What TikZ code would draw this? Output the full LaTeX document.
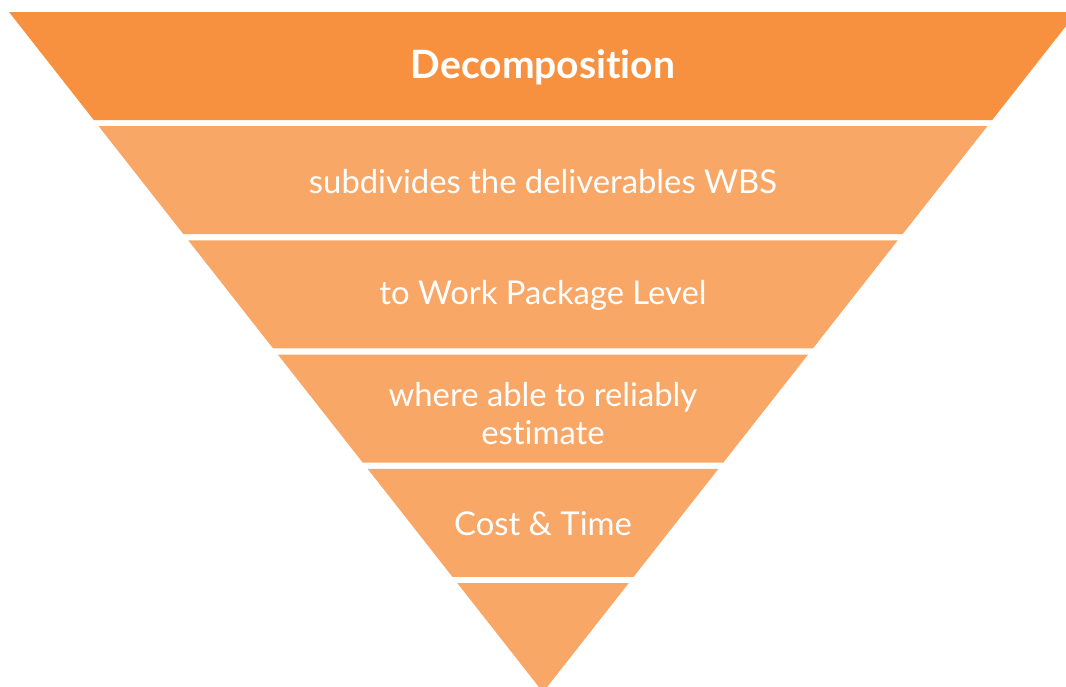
\documentclass[tikz,border=0pt]{standalone}
\usepackage{fontspec}
\setmainfont{Lato}[Ligatures=NoCommon]
\definecolor{topband}{HTML}{F7913F}
\definecolor{lowband}{HTML}{F8A766}
\tikzset{
  bandtext/.style={text=white, align=center, font=\fontsize{16.4}{18.6}\selectfont},
  headtext/.style={text=white, font=\fontsize{19.5}{22}\selectfont\bfseries}
}
\begin{document}
\begin{tikzpicture}[x=0.5pt, y=-0.5pt]
  \useasboundingbox (0, 0) rectangle (1066, 686);
  \clip (0, 0) rectangle (1066, 686);

  % six bands of the funnel
  \foreach \i in {0, ..., 5} {
    \pgfmathsetmacro\ytop{12 + 114.2 * \i}
    \pgfmathsetmacro\ybot{\ytop + 108}
    \pgfmathsetmacro\wtop{534 - 0.785 * (\ytop - 12)}
    \pgfmathsetmacro\wbot{max(534 - 0.785 * (\ybot - 12), 0)}
    \ifnum\i=0 \def\bandcol{topband}\else\def\bandcol{lowband}\fi
    \fill[\bandcol] (543 - \wtop, \ytop) -- (543 + \wtop, \ytop)
      -- (543 + \wbot, \ybot) -- (543 - \wbot, \ybot) -- cycle;
    \coordinate (c\i) at (543, \ytop + 55);
  }

  \node[headtext] (decomp) at (c0) {Decomposition};
  \node[bandtext] (subdiv) at (c1) {subdivides the deliverables WBS};
  \node[bandtext] (wplevel) at (c2) {to Work Package Level};
  \node[bandtext] (estimate) at ([yshift=-2pt]c3) {where able to reliably\\estimate};
  \node[bandtext] (costtime) at (c4) {Cost \& Time};
\end{tikzpicture}
\end{document}
